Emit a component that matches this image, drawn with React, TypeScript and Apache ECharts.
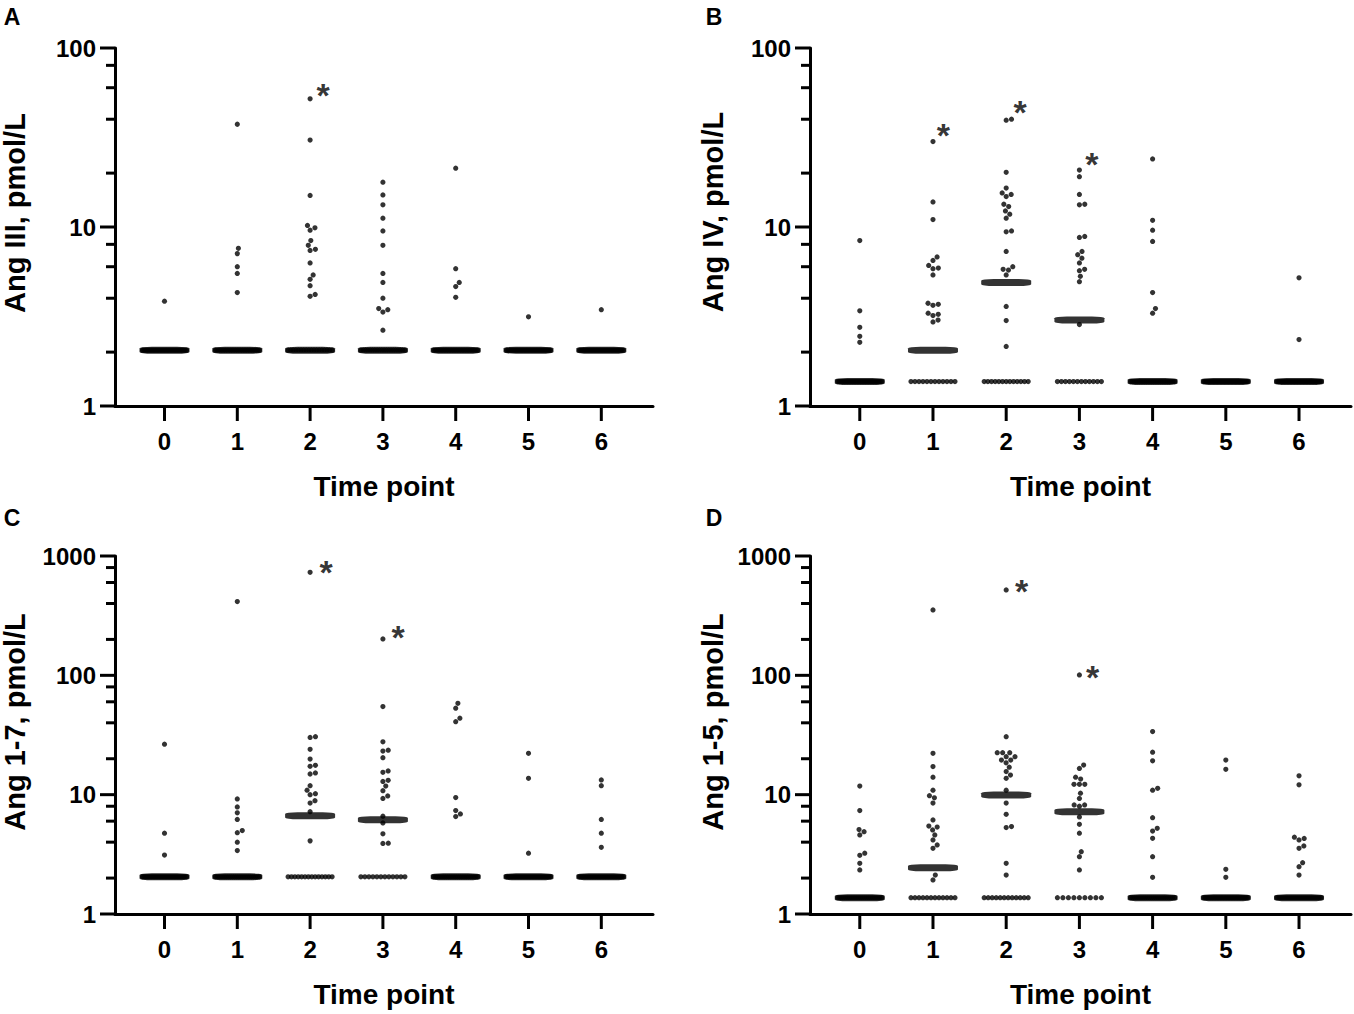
import React, { useEffect, useRef } from "react";
import * as echarts from "echarts";

// ---------- shared categories / ticks ----------
const timePoints = [0, 1, 2, 3, 4, 5, 6];
const xTickLabels = ["0", "1", "2", "3", "4", "5", "6"];
const yTicks100 = [1, 10, 100];
const yMinor100 = [2, 4, 6, 8, 20, 40, 60, 80];
const yTicks1000 = [1, 10, 100, 1000];
const yMinor1000 = [2, 4, 6, 8, 20, 40, 60, 80, 200, 400, 600, 800];

// ---------- Panel A: Ang III ----------
const angIIIValues: number[][] = [
  [3.85],
  [37.5, 7.6, 7.1, 6.0, 5.5, 4.3],
  [52, 30.6, 15.0, 10.2, 9.9, 9.6, 8.4, 7.9, 7.5, 7.4, 6.3, 5.4, 5.1, 4.7, 4.2, 4.1],
  [17.8, 15.1, 13.3, 11.2, 9.5, 7.9, 5.5, 4.9, 4.0, 3.5, 3.45, 3.35, 2.65],
  [21.3, 5.85, 4.9, 4.65, 4.05],
  [3.15],
  [3.45],
];
const angIIILloq = 2.05;
const angIIILloqCounts = [32, 27, 18, 20, 28, 32, 32];
const angIIIMedians = [2.05, 2.05, 2.05, 2.05, 2.05, 2.05, 2.05];
const angIIIStars = [[2.18, 54.6]];

// ---------- Panel B: Ang IV ----------
const angIVValues: number[][] = [
  [8.4, 3.4, 2.75, 2.45, 2.27],
  [30, 13.8, 11.0, 6.8, 6.5, 6.1, 5.9, 5.85, 5.4, 3.75, 3.7, 3.65, 3.3, 3.25, 3.2, 3.02, 2.95],
  [40, 39.5, 20.2, 16.5, 15.5, 15.2, 14.8, 13.4, 13.0, 12.3, 11.8, 11.2, 9.5, 9.4, 7.3, 6.0, 5.8, 5.75, 5.4, 3.6, 3.0, 2.15],
  [20.8, 19.1, 15.2, 13.4, 13.3, 8.85, 8.75, 7.3, 7.0, 6.7, 6.3, 5.8, 5.7, 5.3, 4.95, 2.85],
  [24.0, 10.9, 9.6, 8.3, 4.3, 3.5, 3.3],
  [],
  [5.2, 2.35],
];
const angIVLloq = 1.37;
const angIVLloqCounts = [28, 12, 13, 12, 26, 33, 31];
const angIVMedians = [1.37, 2.05, 4.9, 3.02, 1.37, 1.37, 1.37];
const angIVStars = [[1.14, 32.7], [2.19, 43.9], [3.17, 22.5]];

// ---------- Panel C: Ang 1-7 ----------
const ang17Values: number[][] = [
  [26.5, 4.75, 3.12],
  [415, 9.2, 7.9, 7.05, 6.2, 5.0, 4.8, 4.0, 3.4],
  [730, 30.6, 30.2, 24, 19.9, 17.6, 17.3, 15.2, 14.9, 11.9, 10.9, 10.2, 10.0, 8.9, 8.5, 7.2, 4.1],
  [202, 54.7, 27.7, 23.6, 23.2, 20.4, 15.8, 15.4, 13.2, 12.9, 11.8, 10.8, 9.75, 9.3, 6.6, 5.8, 4.7, 3.92, 3.9],
  [58.3, 53, 43.7, 40.9, 9.45, 7.35, 6.9, 6.55],
  [22.2, 13.7, 3.23],
  [13.3, 11.9, 6.2, 4.75, 3.62],
];
const ang17Lloq = 2.05;
const ang17LloqCounts = [30, 24, 14, 12, 25, 30, 28];
const ang17Medians = [2.05, 2.05, 6.65, 6.15, 2.05, 2.05, 2.05];
const ang17Stars = [[2.22, 736], [3.21, 210]];

// ---------- Panel D: Ang 1-5 ----------
const ang15Values: number[][] = [
  [11.8, 7.35, 5.1, 4.9, 4.6, 3.23, 3.1, 2.66, 2.34],
  [353, 22.2, 17.2, 14, 10.9, 9.8, 9.4, 8.5, 6.14, 5.45, 5.35, 5.06, 4.6, 4.17, 3.79, 3.55, 2.12, 1.93],
  [520, 30.6, 22.5, 22.5, 22.5, 20.8, 20.8, 19.5, 19.5, 18.5, 17.0, 15.6, 14.6, 13.7, 10.9, 8.5, 6.85, 5.4, 5.3, 2.66, 2.12],
  [100.8, 17.7, 16.6, 14.0, 13.5, 12.2, 12.2, 12.2, 10.3, 9.3, 8.2, 8.2, 8.0, 6.5, 5.65, 4.75, 3.33, 3.02, 2.34],
  [33.8, 22.7, 19.2, 11.3, 10.9, 6.42, 5.23, 4.96, 4.31, 3.02, 2.03],
  [19.5, 16.3, 2.37, 2.03],
  [14.4, 12.1, 4.4, 4.3, 4.17, 3.72, 3.55, 2.69, 2.49, 2.12],
];
const ang15Lloq = 1.37;
const ang15LloqCounts = [24, 12, 12, 9, 22, 29, 23];
const ang15Medians = [1.37, 2.44, 9.95, 7.2, 1.37, 1.37, 1.37];
const ang15Stars = [[2.21, 510], [3.18, 97]];

// ---------- layout ----------
const X_MIN = -0.68;
const X_MAX = 6.71;
const DOT = 5.2;
const FONT = "'Liberation Sans', Arial, Helvetica, sans-serif";

type Panel = {
  letter: string;
  title: string;
  values: number[][];
  lloq: number;
  lloqCounts: number[];
  medians: number[];
  stars: number[][];
  yMax: number;
  majors: number[];
  minors: number[];
  grid: { left: number; top: number; width: number; height: number };
  titleX: number;
  titleY: number;
  letterX: number;
  letterY: number;
};

const panels: Panel[] = [
  {
    letter: "A", title: "Ang III, pmol/L", values: angIIIValues, lloq: angIIILloq,
    lloqCounts: angIIILloqCounts, medians: angIIIMedians, stars: angIIIStars,
    yMax: 100, majors: yTicks100, minors: yMinor100,
    grid: { left: 115, top: 48, width: 538, height: 358 },
    titleX: 15, titleY: 213, letterX: 12, letterY: 17,
  },
  {
    letter: "B", title: "Ang IV, pmol/L", values: angIVValues, lloq: angIVLloq,
    lloqCounts: angIVLloqCounts, medians: angIVMedians, stars: angIVStars,
    yMax: 100, majors: yTicks100, minors: yMinor100,
    grid: { left: 810, top: 48, width: 541, height: 358 },
    titleX: 713, titleY: 212, letterX: 714, letterY: 17,
  },
  {
    letter: "C", title: "Ang 1-7, pmol/L", values: ang17Values, lloq: ang17Lloq,
    lloqCounts: ang17LloqCounts, medians: ang17Medians, stars: ang17Stars,
    yMax: 1000, majors: yTicks1000, minors: yMinor1000,
    grid: { left: 115, top: 556, width: 538, height: 358 },
    titleX: 15, titleY: 722, letterX: 12, letterY: 518,
  },
  {
    letter: "D", title: "Ang 1-5, pmol/L", values: ang15Values, lloq: ang15Lloq,
    lloqCounts: ang15LloqCounts, medians: ang15Medians, stars: ang15Stars,
    yMax: 1000, majors: yTicks1000, minors: yMinor1000,
    grid: { left: 810, top: 556, width: 541, height: 358 },
    titleX: 713, titleY: 722, letterX: 714, letterY: 518,
  },
];

// beeswarm layout: returns x offsets (px) for each value
function swarm(values: number[], decadePx: number): number[] {
  const d = DOT + 0.2;
  const pts = values
    .map((v, i) => ({ i, y: Math.log10(v) * decadePx }))
    .sort((a, b) => a.y - b.y);
  const placed: { x: number; y: number }[] = [];
  const offs = new Array(values.length).fill(0);
  for (const p of pts) {
    const near = placed.filter((q) => Math.abs(q.y - p.y) < d);
    const cands = [0];
    for (const q of near) {
      const dx = Math.sqrt(d * d - (q.y - p.y) * (q.y - p.y));
      cands.push(q.x + dx, q.x - dx);
    }
    cands.sort((a, b) => Math.abs(a) - Math.abs(b) || b - a);
    let chosen = 0;
    for (const c of cands) {
      if (near.every((q) => (q.x - c) ** 2 + (q.y - p.y) ** 2 >= d * d - 0.05)) {
        chosen = c;
        break;
      }
    }
    placed.push({ x: chosen, y: p.y });
    offs[p.i] = chosen;
  }
  return offs;
}

function rowOffsets(n: number): number[] {
  if (n <= 0) return [];
  if (n === 1) return [0];
  const span = n >= 8 ? 44 : (n - 1) * (DOT + 0.2);
  const out: number[] = [];
  for (let k = 0; k < n; k++) out.push(-span / 2 + (span * k) / (n - 1));
  return out;
}

// pixel position on a panel's axes (same linear / log10 mapping that the axes use)
function xPix(p: Panel, x: number) {
  return p.grid.left + ((x - X_MIN) / (X_MAX - X_MIN)) * p.grid.width;
}
function yPix(p: Panel, v: number) {
  return p.grid.top + p.grid.height * (1 - Math.log10(v) / Math.log10(p.yMax));
}

function tickGraphics(chart: any): any[] {
  const g: any[] = [];
  panels.forEach((p, gi) => {
    const toPx = (x: number, v: number): number[] => {
      try {
        const pt = chart && chart.convertToPixel({ xAxisIndex: gi, yAxisIndex: gi }, [x, v]);
        if (pt && isFinite(pt[0]) && isFinite(pt[1])) return [pt[0], pt[1]];
      } catch (e) {
        /* fall back to the axis mapping */
      }
      return [xPix(p, x), yPix(p, v)];
    };
    const ax = toPx(X_MIN, 1);
    p.majors.forEach((v) => {
      const pt = toPx(X_MIN, v);
      g.push({ type: "rect", shape: { x: ax[0] - 15, y: pt[1] - 1.5, width: 15, height: 3 }, style: { fill: "#000" }, silent: true, z: 50 });
    });
    p.minors.forEach((v) => {
      const pt = toPx(X_MIN, v);
      g.push({ type: "rect", shape: { x: ax[0] - 9, y: pt[1] - 1.5, width: 9, height: 3 }, style: { fill: "#000" }, silent: true, z: 50 });
    });
    timePoints.forEach((t) => {
      const pt = toPx(t, 1);
      g.push({ type: "rect", shape: { x: pt[0] - 1.5, y: ax[1], width: 3, height: 15 }, style: { fill: "#000" }, silent: true, z: 50 });
    });
  });
  return g;
}

function textGraphics(): any[] {
  const g: any[] = [];
  panels.forEach((p) => {
    g.push({
      type: "text",
      x: p.titleX,
      y: p.titleY,
      rotation: Math.PI / 2,
      style: {
        text: p.title, fontSize: 29, fontWeight: "bold", fontFamily: FONT,
        fill: "#000", align: "center", verticalAlign: "middle",
      },
    });
    g.push({
      type: "text",
      x: p.letterX,
      y: p.letterY,
      style: {
        text: p.letter, fontSize: 23, fontWeight: "bold", fontFamily: FONT,
        fill: "#000", align: "center", verticalAlign: "middle",
      },
    });
  });
  return g;
}

function buildOption() {
  const grids: any[] = [];
  const xAxes: any[] = [];
  const yAxes: any[] = [];
  const series: any[] = [];

  panels.forEach((p, gi) => {
    grids.push({ ...p.grid, containLabel: false, outerBoundsMode: "none" });
    const unitPx = p.grid.width / (X_MAX - X_MIN);
    const decadePx = p.grid.height / Math.log10(p.yMax);

    xAxes.push({
      gridIndex: gi,
      type: "value",
      min: X_MIN,
      max: X_MAX,
      name: "Time point",
      nameLocation: "middle",
      nameGap: 66,
      nameTextStyle: { fontSize: 28, fontWeight: "bold", color: "#000", fontFamily: FONT },
      axisLine: { show: true, onZero: false, lineStyle: { color: "#000", width: 3 } },
      axisTick: { show: false },
      axisLabel: {
        show: true,
        customValues: timePoints,
        formatter: (v: number) => (Math.abs(v - Math.round(v)) < 1e-6 ? xTickLabels[Math.round(v)] ?? "" : ""),
        fontSize: 24, fontWeight: "bold", color: "#000", fontFamily: FONT, margin: 23,
      },
      splitLine: { show: false },
      minorTick: { show: false },
    });
    yAxes.push({
      gridIndex: gi,
      type: "log",
      logBase: 10,
      min: 1,
      max: p.yMax,
      position: "left",
      axisLine: { show: true, onZero: false, lineStyle: { color: "#000", width: 3 } },
      axisTick: { show: false },
      axisLabel: {
        show: true,
        customValues: p.majors,
        formatter: (v: number) => String(Math.round(v)),
        fontSize: 24, fontWeight: "bold", color: "#000", fontFamily: FONT, margin: 19,
      },
      splitLine: { show: false },
    });

    // dots
    const dotData: number[][] = [];
    p.values.forEach((col, ci) => {
      const offs = swarm(col, decadePx);
      col.forEach((v, k) => dotData.push([timePoints[ci] + offs[k] / unitPx, v]));
      rowOffsets(p.lloqCounts[ci]).forEach((o) => dotData.push([timePoints[ci] + o / unitPx, p.lloq]));
    });
    series.push({
      type: "scatter",
      xAxisIndex: gi,
      yAxisIndex: gi,
      symbol: "circle",
      symbolSize: DOT,
      itemStyle: { color: "#000" },
      data: dotData,
      z: 2,
      silent: true,
    });
    // medians
    series.push({
      type: "scatter",
      xAxisIndex: gi,
      yAxisIndex: gi,
      symbol: "roundRect",
      symbolSize: [50, 7],
      itemStyle: { color: "#000" },
      data: p.medians.map((m, ci) => [timePoints[ci], m]),
      z: 3,
      silent: true,
    });
    // asterisks
    series.push({
      type: "scatter",
      xAxisIndex: gi,
      yAxisIndex: gi,
      symbol: "circle",
      symbolSize: 1,
      itemStyle: { color: "rgba(0,0,0,0)" },
      label: {
        show: true,
        position: "inside",
        formatter: "*",
        fontSize: 34,
        fontWeight: "bold",
        color: "#000",
        fontFamily: FONT,
      },
      data: p.stars,
      z: 4,
      silent: true,
    });
  });

  return {
    animation: false,
    backgroundColor: "#fff",
    textStyle: { fontFamily: FONT },
    grid: grids,
    xAxis: xAxes,
    yAxis: yAxes,
    series,
    graphic: [...textGraphics(), ...tickGraphics(null)],
  };
}

export default function App() {
  const ref = useRef<HTMLDivElement>(null);
  useEffect(() => {
    document.body.style.margin = "0";
    if (!ref.current) return;
    const chart = echarts.init(ref.current, undefined, { renderer: "svg" });
    chart.setOption(buildOption() as any);
    try {
      chart.setOption({ graphic: [...textGraphics(), ...tickGraphics(chart)] } as any);
    } catch (e) {
      /* keep the ticks from the first pass */
    }
    return () => chart.dispose();
  }, []);
  return <div ref={ref} style={{ width: 1354, height: 1014, background: "#fff" }} />;
}
